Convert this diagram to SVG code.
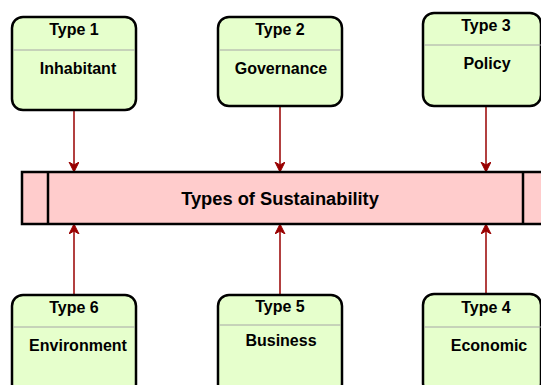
<svg xmlns="http://www.w3.org/2000/svg" width="541" height="385" viewBox="0 0 541 385">
<defs>
<style>
.box{fill:#e6ffcc;stroke:#000;stroke-width:2.5}
.div{stroke:#a6a6a6;stroke-width:1}
.t{font-family:"Liberation Sans",Arial,sans-serif;font-weight:bold;font-size:16px;fill:#000;text-anchor:middle}
.bar{fill:#ffcccc;stroke:#000;stroke-width:2.5}
.title{font-family:"Liberation Sans",Arial,sans-serif;font-weight:bold;font-size:18.3px;fill:#000;text-anchor:middle}
.c{stroke:#990000;stroke-width:1.5;fill:none;marker-end:url(#ah)}
</style>
<marker id="ah" markerWidth="12" markerHeight="12" refX="9" refY="5" orient="auto" markerUnits="userSpaceOnUse">
<path d="M0,0 L10,5 L0,10 L3,5 Z" fill="#990000" stroke="#990000" stroke-width="1"/>
</marker>
</defs>
<rect width="541" height="385" fill="#fff"/>
<g id="connectors">
<line class="c" x1="74" y1="110" x2="74" y2="171"/>
<line class="c" x1="280" y1="106" x2="280" y2="171"/>
<line class="c" x1="486" y1="106" x2="486" y2="171"/>
<line class="c" x1="74" y1="295" x2="74" y2="225"/>
<line class="c" x1="280" y1="295" x2="280" y2="225"/>
<line class="c" x1="486" y1="294" x2="486" y2="225"/>
</g>
<g id="main">
<rect class="bar" x="22" y="172" width="527" height="52"/>
<line x1="48" y1="172" x2="48" y2="224" stroke="#000" stroke-width="2.5"/>
<line x1="523" y1="172" x2="523" y2="224" stroke="#000" stroke-width="2.5"/>
<text class="title" x="280" y="205">Types of Sustainability</text>
</g>
<g id="type1">
<rect class="box" x="12" y="17" width="124" height="93" rx="11"/>
<line class="div" x1="13" y1="50" x2="135" y2="50"/>
<text class="t" x="74" y="35">Type 1</text>
<text class="t" x="78" y="74">Inhabitant</text>
</g>
<g id="type2">
<rect class="box" x="218" y="17" width="124" height="89" rx="11"/>
<line class="div" x1="219" y1="50" x2="341" y2="50"/>
<text class="t" x="280" y="35">Type 2</text>
<text class="t" x="281" y="74">Governance</text>
</g>
<g id="type3">
<rect class="box" x="423" y="13" width="118" height="93" rx="11"/>
<line class="div" x1="424" y1="45" x2="541" y2="45"/>
<text class="t" x="486" y="31">Type 3</text>
<text class="t" x="487" y="69">Policy</text>
</g>
<g id="type6">
<rect class="box" x="12" y="295" width="124" height="100" rx="11"/>
<line class="div" x1="13" y1="327" x2="135" y2="327"/>
<text class="t" x="74" y="313">Type 6</text>
<text class="t" x="78" y="351">Environment</text>
</g>
<g id="type5">
<rect class="box" x="218" y="295" width="124" height="100" rx="11"/>
<line class="div" x1="219" y1="325" x2="341" y2="325"/>
<text class="t" x="280" y="312">Type 5</text>
<text class="t" x="281" y="346">Business</text>
</g>
<g id="type4">
<rect class="box" x="423" y="294" width="118" height="100" rx="11"/>
<line class="div" x1="424" y1="327" x2="541" y2="327"/>
<text class="t" x="486" y="313">Type 4</text>
<text class="t" x="489" y="351">Economic</text>
</g>
</svg>
